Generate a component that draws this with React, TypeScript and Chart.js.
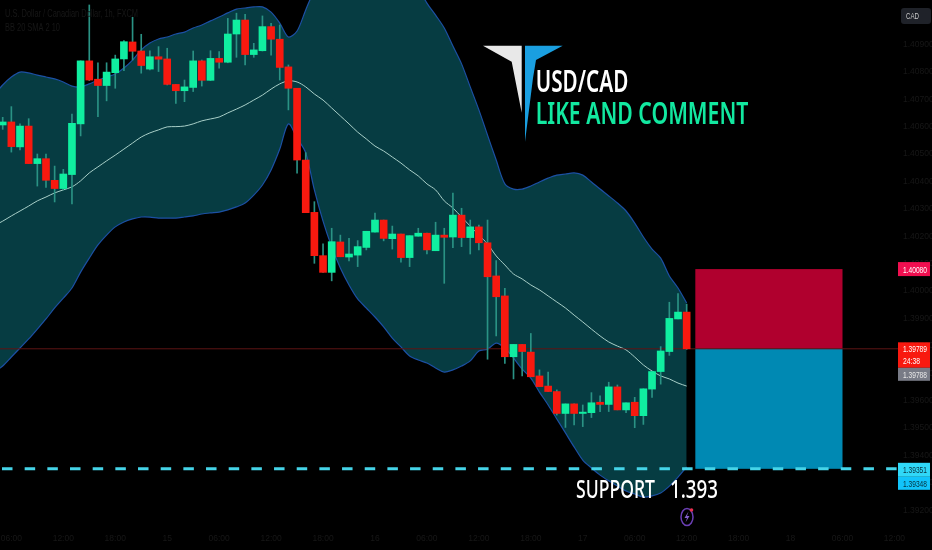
import React, { useEffect, useRef } from "react";
import { Chart, registerables } from "chart.js";

Chart.register(...registerables);

// All prices below are in points (1/100000 of a Canadian dollar).
const opens = [140606,140617,140526,140602,140465,140483,140404,140374,140425,140610,140840,140773,140750,140797,140847,140909,140876,140810,140855,140847,140754,140731,140743,140840,140769,140849,140835,140938,140989,140863,140877,140965,140919,140818,140740,140478,140287,140129,140068,140179,140124,140131,140159,140215,140259,140191,140208,140122,140200,140211,140147,140204,140197,140277,140195,140234,140176,140055,139982,139760,139805,139777,139690,139653,139633,139553,139588,139553,139556,139594,139586,139650,139566,139594,139545,139642,139706,139779,139898,139923];
const highs = [140634,140673,140610,140629,140500,140500,140456,140444,140646,140840,141044,140833,140833,140861,140914,140999,140937,140877,140892,140886,140754,140770,140876,140843,140877,140874,140995,141014,141010,140904,141004,140977,140971,140825,140740,140505,140326,140172,140229,140204,140192,140184,140218,140284,140259,140237,140208,140202,140229,140211,140251,140229,140357,140302,140259,140241,140259,140111,140010,139805,139805,139845,139712,139704,139639,139588,139588,139584,139629,139617,139667,139657,139592,139612,139643,139706,139797,139959,139991,139952];
const lows = [140590,140507,140515,140465,140383,140378,140325,140369,140318,140566,140768,140636,140694,140740,140804,140843,140795,140807,140801,140752,140685,140691,140728,140748,140768,140813,140833,140853,140825,140853,140876,140861,140770,140661,140430,140286,140101,140068,140037,140125,140110,140089,140150,140215,140183,140153,140105,140089,140200,140135,140147,140028,140158,140162,140135,140150,139751,139836,139736,139679,139690,139687,139651,139633,139547,139502,139511,139505,139538,139560,139560,139566,139556,139501,139513,139612,139660,139765,139898,139787];
const closes = [140617,140527,140602,140465,140483,140404,140374,140427,140612,140840,140770,140750,140799,140847,140910,140875,140823,140855,140846,140754,140731,140745,140840,140769,140849,140835,140938,140989,140863,140880,140965,140919,140816,140740,140478,140286,140129,140068,140180,140125,140135,140162,140218,140259,140192,140208,140122,140202,140211,140150,140204,140196,140277,140195,140234,140176,140052,139979,139760,139805,139779,139687,139651,139633,139553,139588,139553,139558,139592,139586,139650,139566,139592,139545,139643,139706,139781,139900,139923,139789];

// Bands start one bar earlier (index -1), just off the left edge of the picture.
const bandUpper = [140715,140752,140781,140799,140796,140788,140781,140774,140763,140748,140745,140756,140770,140781,140792,140814,140843,140880,140905,140920,140927,140938,140945,140960,140971,140986,141000,141015,141029,141033,141037,141037,141018,140978,140927,140949,141026,141099,141153,141201,141237,141263,141281,141292,141292,141281,141252,141215,141164,141106,141051,141007,140960,140894,140829,140745,140661,140569,140478,140391,140372,140372,140383,140398,140412,140423,140427,140431,140423,140398,140372,140347,140321,140292,140248,140197,140153,140120,140055,140011,139956];
const bandLower = [139704,139726,139759,139792,139825,139861,139898,139938,139974,140011,140069,140120,140168,140204,140234,140252,140263,140270,140270,140266,140266,140266,140270,140274,140281,140285,140288,140296,140307,140321,140350,140387,140442,140518,140610,140558,140504,140369,140255,140161,140084,140022,139971,139938,139905,139869,139828,139796,139763,139748,139737,139719,139704,139712,139726,139745,139781,139788,139810,139792,139755,139715,139682,139631,139584,139533,139482,139431,139383,139354,139328,139307,139288,139270,139259,139248,139252,139263,139288,139321,139358];
const bandMiddle = [140238,140255,140274,140292,140310,140329,140343,140358,140369,140380,140402,140431,140453,140475,140496,140518,140540,140562,140577,140588,140599,140600,140602,140610,140621,140628,140635,140650,140664,140679,140697,140715,140737,140756,140767,140763,140745,140719,140697,140668,140639,140610,140580,140555,140529,140511,140489,140467,140442,140420,140391,140369,140329,140303,140270,140237,140204,140172,140128,140095,140062,140044,140022,140004,139982,139960,139938,139912,139887,139861,139836,139814,139799,139785,139759,139730,139708,139690,139679,139664,139653];

const yTickValues = [139200,139300,139400,139500,139600,139700,139800,139900,140000,140100,140200,140300,140400,140500,140600,140700,140800,140900];
const xTickIndex = [1,7,13,19,25,31,37,43,49,55,61,67,73,79,85,91,97,103];
const xTickLabels = ["06:00","12:00","18:00","15","06:00","12:00","18:00","16","06:00","12:00","18:00","17","06:00","12:00","18:00","18","06:00","12:00"];

const lastPrice = 139789;
const targetPrice = 140080;
const supportPrice = 139351;
const boxStartIndex = 80;
const boxEndIndex = 97;
const tagCurrent = ["1.39789", "24:38"];
const tagPrevClose = "1.39788";
const tagSupportA = "1.39351";
const tagSupportB = "1.39348";
const tagTarget = "1.40080";

const seriesTitle = "U.S. Dollar / Canadian Dollar, 1h, FXCM";
const indicatorTitle = "BB 20 SMA 2 10";
const pairText = "USD/CAD";
const callText = "LIKE AND COMMENT";
const supportWord = "SUPPORT";
const supportLevel = "1.393";

const GREEN = "#10eea0";
const RED = "#f8190f";
const FAINT = "#171717";

const toPrice = (p: number) => p / 100000;
const X_MIN = -0.312;
const X_MAX = 103.41;
const Y_MAX = 1.4106215;
const Y_MIN = 1.3913495;

function squeezed(ctx: any, text: string, x0: number, x1: number, base: number, font: string, color: string) {
  ctx.save();
  ctx.font = font;
  const w = ctx.measureText(text).width;
  ctx.translate(x0, base);
  ctx.scale((x1 - x0) / w, 1);
  ctx.fillStyle = color;
  ctx.textAlign = "left";
  ctx.textBaseline = "alphabetic";
  ctx.fillText(text, 0, 0);
  ctx.restore();
}

function poly(ctx: any, pts: number[][], color: string) {
  ctx.beginPath();
  pts.forEach((p, i) => (i ? ctx.lineTo(p[0], p[1]) : ctx.moveTo(p[0], p[1])));
  ctx.closePath();
  ctx.fillStyle = color;
  ctx.fill();
}

const positionBoxes = {
  id: "positionBoxes",
  beforeDatasetsDraw(chart: any) {
    const { ctx, scales } = chart;
    const l = scales.x.getPixelForValue(boxStartIndex);
    const r = scales.x.getPixelForValue(boxEndIndex);
    const top = scales.y.getPixelForValue(toPrice(targetPrice));
    const mid = scales.y.getPixelForValue(toPrice(lastPrice));
    const bot = scales.y.getPixelForValue(toPrice(supportPrice));
    ctx.fillStyle = "#b0002e";
    ctx.fillRect(l, top, r - l, mid - top);
    ctx.fillStyle = "#0089b3";
    ctx.fillRect(l, mid, r - l, bot - mid);
  },
};

const overlays = {
  id: "overlays",
  afterDraw(chart: any) {
    const { ctx, scales } = chart;
    const tagFont = "9.5px 'Liberation Sans'";
    const y = scales.y;

    squeezed(ctx, seriesTitle, 5, 138, 17, "11px 'Liberation Sans'", FAINT);
    squeezed(ctx, indicatorTitle, 5, 60, 31, "11px 'Liberation Sans'", FAINT);

    // price tags on the right axis
    const tag = (top: number, bottom: number, color: string) => {
      ctx.fillStyle = color;
      ctx.fillRect(898, top, 32, bottom - top);
    };
    const yTarget = y.getPixelForValue(toPrice(targetPrice));
    tag(yTarget - 7, yTarget + 7, "#f00f50");
    squeezed(ctx, tagTarget, 903, 927, yTarget + 3.5, tagFont, "#ffffff");

    const yLast = y.getPixelForValue(toPrice(lastPrice));
    tag(yLast - 6.5, yLast + 19, "#f8190f");
    squeezed(ctx, tagCurrent[0], 903, 927, yLast + 3.5, tagFont, "#ffffff");
    squeezed(ctx, tagCurrent[1], 903, 920, yLast + 15, tagFont, "#ffffff");
    tag(yLast + 19, yLast + 32, "#787b86");
    squeezed(ctx, tagPrevClose, 903, 927, yLast + 29, tagFont, "#e8e8e8");

    const ySup = y.getPixelForValue(toPrice(supportPrice));
    tag(ySup - 6, ySup + 8, "#30d8f8");
    squeezed(ctx, tagSupportA, 903, 927, ySup + 4, tagFont, "#06303c");
    tag(ySup + 8, ySup + 21, "#12c4fa");
    squeezed(ctx, tagSupportB, 903, 927, ySup + 18, tagFont, "#06303c");

    // currency button
    ctx.beginPath();
    ctx.roundRect(901, 8, 30, 16, 3);
    ctx.fillStyle = "#1f2229";
    ctx.fill();
    squeezed(ctx, "CAD", 906, 919, 18.5, tagFont, "#c8c8c8");

    // logo
    poly(ctx, [[483, 45.7], [521.7, 45.7], [521.7, 112.7], [511.7, 61.7]], "#e8e8e8");
    poly(ctx, [[525, 45.7], [562.7, 45.7], [536, 60], [533, 78], [525, 141.7]], "#1a9fe0");

    // captions
    squeezed(ctx, pairText, 535.7, 628.3, 91.7, "600 31px 'Noto Sans'", "#ffffff");
    squeezed(ctx, callText, 535.7, 748.3, 124.3, "600 31px 'Noto Sans'", "#12e8a0");
    squeezed(ctx, supportWord, 576, 655, 498, "500 25px 'Noto Sans'", "#ffffff");
    squeezed(ctx, supportLevel, 670, 718, 498, "500 25px 'Noto Sans'", "#ffffff");

    // lightning badge
    ctx.beginPath();
    ctx.ellipse(687, 517, 6, 8.5, 0, 0, Math.PI * 2);
    ctx.strokeStyle = "#6b3fb5";
    ctx.lineWidth = 1.5;
    ctx.stroke();
    poly(ctx, [[688.5, 511.5], [684.5, 518], [687, 518], [685.5, 522.5], [689.5, 516], [687, 516]], "#8460cc");
    ctx.beginPath();
    ctx.arc(691.5, 510, 1.8, 0, Math.PI * 2);
    ctx.fillStyle = "#e8304f";
    ctx.fill();
  },
};

export default function App() {
  const ref = useRef<HTMLCanvasElement>(null);
  useEffect(() => {
    document.body.style.margin = "0";
    document.body.style.background = "#000";
    const idx = opens.map((_, i) => i);
    const line = (arr: number[]) => arr.map((v, i) => ({ x: i - 1, y: toPrice(v) }));
    const chart = new Chart(ref.current as HTMLCanvasElement, {
      type: "bar",
      data: {
        datasets: [
          {
            type: "line",
            label: "Upper",
            data: line(bandUpper),
            borderColor: "#1c50a4",
            borderWidth: 1.2,
            pointRadius: 0,
            tension: 0.3,
            fill: "+1",
            backgroundColor: "#063c42",
            order: 10,
          },
          {
            type: "line",
            label: "Lower",
            data: line(bandLower),
            borderColor: "#1c50a4",
            borderWidth: 1.2,
            pointRadius: 0,
            tension: 0.3,
            fill: false,
            order: 9,
          },
          {
            type: "line",
            label: "Basis",
            data: line(bandMiddle),
            borderColor: "#a8cfc8",
            borderWidth: 1,
            pointRadius: 0,
            tension: 0.3,
            order: 8,
          },
          {
            type: "line",
            label: "Last",
            data: [{ x: X_MIN, y: toPrice(lastPrice) }, { x: X_MAX, y: toPrice(lastPrice) }],
            borderColor: "#5e1414",
            borderWidth: 1,
            pointRadius: 0,
            order: 7,
          },
          {
            type: "bar",
            label: "Wicks",
            data: idx.map((i) => ({ x: i, y: [toPrice(lows[i]), toPrice(highs[i])] })),
            backgroundColor: "#2a9284",
            barThickness: 1,
            grouped: false,
            order: 4,
          },
          {
            type: "bar",
            label: "Bodies",
            data: idx.map((i) => ({ x: i, y: [toPrice(opens[i]), toPrice(closes[i])] })),
            backgroundColor: idx.map((i) => (closes[i] >= opens[i] ? GREEN : RED)),
            barThickness: 7,
            grouped: false,
            order: 3,
          },
          {
            type: "line",
            label: "Support",
            data: [{ x: X_MIN, y: toPrice(supportPrice) }, { x: X_MAX, y: toPrice(supportPrice) }],
            borderColor: "#45d4e8",
            borderWidth: 3,
            borderDash: [10.5, 12.17],
            borderDashOffset: -2,
            pointRadius: 0,
            order: 1,
          },
        ] as any,
      },
      options: {
        animation: false,
        responsive: false,
        devicePixelRatio: 1,
        layout: { padding: 0, autoPadding: false },
        plugins: { legend: { display: false }, tooltip: { enabled: false } },
        scales: {
          x: {
            type: "linear",
            offset: false,
            min: X_MIN,
            max: X_MAX,
            grid: { display: false, drawTicks: false, offset: false },
            border: { display: false },
            afterFit: (s: any) => { s.height = 22; s.paddingLeft = 0; s.paddingRight = 0; },
            afterBuildTicks: (s: any) => { s.ticks = xTickIndex.map((value) => ({ value })); },
            ticks: {
              autoSkip: false,
              maxRotation: 0,
              padding: 6,
              color: FAINT,
              font: { family: "'Liberation Sans Narrow','Liberation Sans'", size: 8.5 },
              callback: (_v: any, i: number) => xTickLabels[i],
            },
          },
          y: {
            position: "right",
            min: Y_MIN,
            max: Y_MAX,
            grid: { display: false, drawTicks: false },
            border: { display: false },
            afterFit: (s: any) => { s.width = 34; s.paddingTop = 0; s.paddingBottom = 0; },
            afterBuildTicks: (s: any) => { s.ticks = yTickValues.map((v) => ({ value: toPrice(v) })); },
            ticks: {
              padding: 5,
              color: FAINT,
              font: { family: "'Liberation Sans Narrow','Liberation Sans'", size: 8.5 },
              callback: (v: any) => Number(v).toFixed(5),
            },
          },
        },
      } as any,
      plugins: [positionBoxes, overlays],
    });
    return () => chart.destroy();
  }, []);
  return (
    <div style={{ width: 932, height: 550, background: "#000" }}>
      <canvas ref={ref} width={932} height={550} style={{ display: "block" }} />
    </div>
  );
}
